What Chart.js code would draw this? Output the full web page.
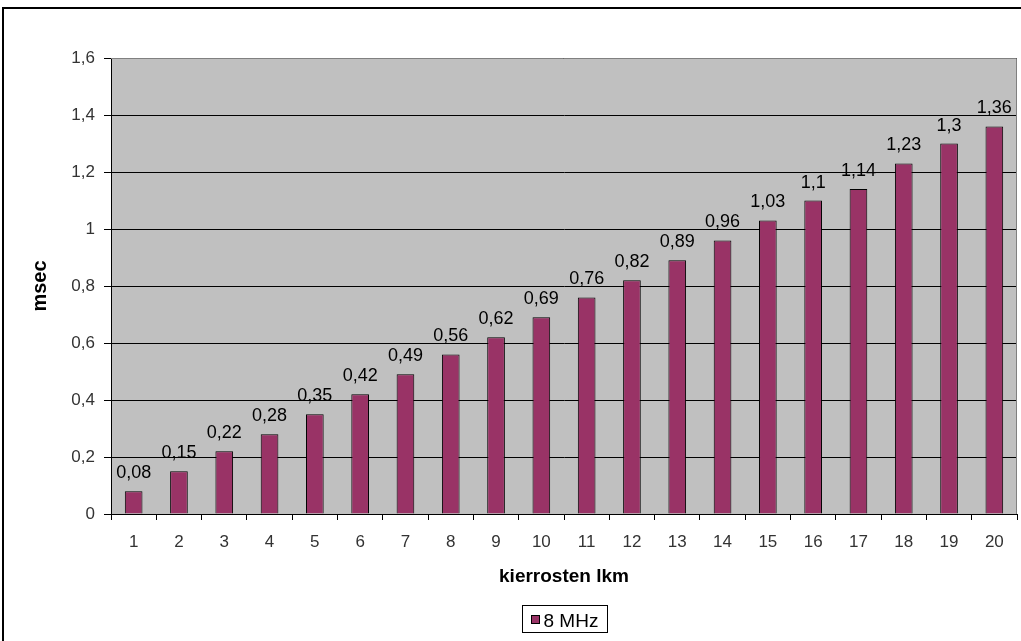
<!DOCTYPE html>
<html><head><meta charset="utf-8">
<script src="https://cdn.jsdelivr.net/npm/chart.js@4.4.1/dist/chart.umd.min.js"></script>
<style>html,body{margin:0;padding:0;background:#fff;}canvas{display:block;}</style>
</head><body>
<canvas id="c" width="1021" height="641"></canvas>
<script>
const categories = ['1','2','3','4','5','6','7','8','9','10','11','12','13','14','15','16','17','18','19','20'];
const seriesName = '8 MHz';
const seriesValues = [0.08,0.15,0.22,0.28,0.35,0.42,0.49,0.56,0.62,0.69,0.76,0.82,0.89,0.96,1.03,1.1,1.14,1.23,1.3,1.36];
const yTitle = 'msec';
const xTitle = 'kierrosten lkm';

const FONT = '"Liberation Sans", Arial, sans-serif';
const fmt = v => String(Math.round(v*100)/100).replace('.', ',');

const deco = {
  id: 'deco',
  beforeDraw(chart) {
    const {ctx, chartArea: a} = chart;
    ctx.save();
    ctx.fillStyle = '#fff';
    ctx.fillRect(0, 0, chart.width, chart.height);
    ctx.fillStyle = '#c0c0c0';
    ctx.fillRect(a.left, a.top, a.right - a.left, a.bottom - a.top);
    ctx.strokeStyle = '#000';
    ctx.lineWidth = 2;
    ctx.strokeRect(3, 8, 1100, 700);
    ctx.restore();
  },
  afterDraw(chart) {
    const {ctx, chartArea: a} = chart;
    ctx.save();
    ctx.strokeStyle = '#808080';
    ctx.lineWidth = 1;
    ctx.beginPath();
    ctx.moveTo(a.left, a.top + 0.5);
    ctx.lineTo(a.right - 0.5, a.top + 0.5);
    ctx.lineTo(a.right - 0.5, a.bottom);
    ctx.stroke();
    // data labels
    const meta = chart.getDatasetMeta(0);
    ctx.fillStyle = '#000';
    ctx.font = '18px ' + FONT;
    ctx.textAlign = 'center';
    ctx.textBaseline = 'alphabetic';
    meta.data.forEach((bar, i) => {
      ctx.fillText(fmt(chart.data.datasets[0].data[i]), bar.x, bar.y - 13);
    });
    // legend
    const ds = chart.data.datasets[0];
    ctx.font = '19px ' + FONT;
    const label = ds.label;
    const tw = ctx.measureText(label).width;
    const box = 8, gap = 4, padX = 9;
    const w = Math.round(padX + box + gap + tw + padX);
    const h = 27;
    const cx = (a.left + a.right) / 2;
    const x0 = Math.round(cx - w / 2) + 0.5, y0 = 605.5;
    ctx.strokeStyle = '#000';
    ctx.lineWidth = 1;
    ctx.strokeRect(x0, y0, w, h);
    ctx.fillStyle = ds.backgroundColor;
    ctx.fillRect(x0 + padX, y0 + 14 - box/2, box, box);
    ctx.strokeRect(x0 + padX, y0 + 14 - box/2, box, box);
    ctx.fillStyle = '#000';
    ctx.textAlign = 'left';
    ctx.textBaseline = 'alphabetic';
    ctx.fillText(label, x0 + padX + box + gap, y0 + 21);
    ctx.restore();
  }
};

new Chart(document.getElementById('c'), {
  type: 'bar',
  data: {
    labels: categories,
    datasets: [{
      label: seriesName,
      data: seriesValues,
      backgroundColor: '#993366',
      borderColor: '#000',
      borderWidth: 1,
      barPercentage: 0.39,
      categoryPercentage: 1
    }]
  },
  options: {
    responsive: false,
    animation: false,
    layout: { padding: { top: 58, right: 4, left: 0, bottom: 51 } },
    plugins: { legend: { display: false }, tooltip: { enabled: false } },
    scales: {
      x: {
        afterFit: s => { s.height = 76; },
        grid: { display: true, drawOnChartArea: false, drawTicks: true, tickLength: 6, color: '#000', offset: true },
        border: { display: true, color: '#000', width: 1 },
        ticks: { color: '#333', font: { size: 17, family: FONT }, padding: 12, maxRotation: 0 },
        title: { display: true, text: xTitle, color: '#000', font: { size: 19, weight: 'bold', family: FONT }, padding: { top: 0, bottom: 2 } }
      },
      y: {
        min: 0, max: 1.6,
        afterFit: s => { s.width = 111; },
        grid: { color: '#000', lineWidth: 1, drawTicks: true, tickLength: 7 },
        border: { display: true, color: '#000', width: 1 },
        ticks: { stepSize: 0.2, color: '#333', font: { size: 17, family: FONT }, padding: 9, callback: v => fmt(v) },
        title: { display: true, text: yTitle, color: '#000', font: { size: 20, weight: 'bold', family: FONT }, padding: { top: 28, bottom: 0 } }
      }
    }
  },
  plugins: [deco]
});
</script>
</body></html>
